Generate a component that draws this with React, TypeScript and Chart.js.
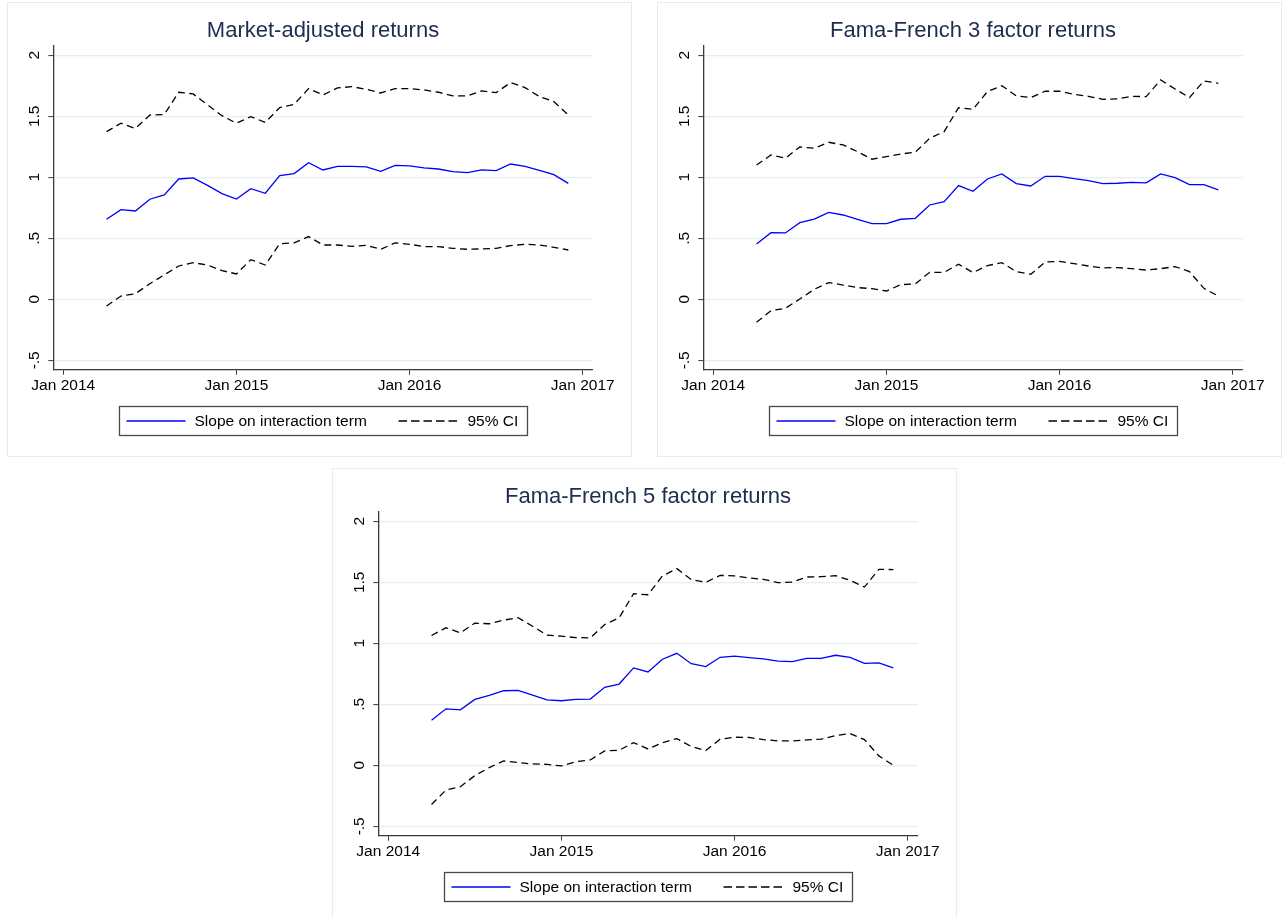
import React, { useEffect, useRef } from "react";
import { Chart, registerables } from "chart.js";

Chart.register(...registerables);

// Monthly estimation dates (first of each month)
const months = [
  "2014-04", "2014-05", "2014-06", "2014-07", "2014-08", "2014-09", "2014-10", "2014-11", "2014-12",
  "2015-01", "2015-02", "2015-03", "2015-04", "2015-05", "2015-06", "2015-07", "2015-08", "2015-09",
  "2015-10", "2015-11", "2015-12", "2016-01", "2016-02", "2016-03", "2016-04", "2016-05", "2016-06",
  "2016-07", "2016-08", "2016-09", "2016-10", "2016-11", "2016-12",
];

// Market-adjusted returns
const marketSlope = [0.656, 0.735, 0.724, 0.82, 0.855, 0.986, 0.995, 0.934, 0.866, 0.822, 0.907, 0.869, 1.014, 1.03, 1.12, 1.06, 1.09, 1.09, 1.085, 1.049, 1.098, 1.093, 1.077, 1.068, 1.046, 1.038, 1.06, 1.055, 1.109, 1.09, 1.057, 1.022, 0.95];
const marketUpper = [1.374, 1.443, 1.4, 1.51, 1.514, 1.697, 1.683, 1.593, 1.505, 1.443, 1.497, 1.45, 1.571, 1.598, 1.727, 1.675, 1.732, 1.743, 1.721, 1.691, 1.727, 1.727, 1.716, 1.697, 1.667, 1.667, 1.708, 1.694, 1.776, 1.735, 1.661, 1.62, 1.51];
const marketLower = [-0.055, 0.027, 0.046, 0.128, 0.2, 0.273, 0.3, 0.281, 0.235, 0.208, 0.325, 0.281, 0.456, 0.462, 0.514, 0.445, 0.445, 0.434, 0.443, 0.41, 0.462, 0.451, 0.432, 0.432, 0.418, 0.41, 0.413, 0.418, 0.44, 0.451, 0.445, 0.426, 0.404];

// Fama-French 3 factor returns
const ff3Slope = [0.454, 0.546, 0.544, 0.628, 0.658, 0.713, 0.691, 0.656, 0.62, 0.62, 0.656, 0.664, 0.773, 0.8, 0.932, 0.885, 0.986, 1.027, 0.948, 0.929, 1.008, 1.008, 0.989, 0.973, 0.948, 0.951, 0.959, 0.954, 1.027, 0.997, 0.94, 0.94, 0.896];
const ff3Upper = [1.101, 1.183, 1.156, 1.249, 1.238, 1.287, 1.265, 1.21, 1.148, 1.169, 1.191, 1.205, 1.32, 1.374, 1.571, 1.557, 1.702, 1.751, 1.667, 1.653, 1.705, 1.705, 1.68, 1.664, 1.639, 1.642, 1.664, 1.661, 1.798, 1.724, 1.653, 1.79, 1.77];
const ff3Lower = [-0.189, -0.093, -0.074, 0.003, 0.082, 0.137, 0.117, 0.096, 0.087, 0.068, 0.12, 0.126, 0.221, 0.221, 0.287, 0.219, 0.276, 0.3, 0.227, 0.205, 0.306, 0.311, 0.292, 0.273, 0.257, 0.26, 0.251, 0.24, 0.251, 0.268, 0.227, 0.09, 0.027];

// Fama-French 5 factor returns
const ff5Slope = [0.37, 0.463, 0.455, 0.54, 0.573, 0.611, 0.614, 0.576, 0.537, 0.529, 0.54, 0.543, 0.639, 0.666, 0.798, 0.765, 0.869, 0.918, 0.833, 0.809, 0.885, 0.894, 0.883, 0.872, 0.853, 0.85, 0.877, 0.877, 0.902, 0.885, 0.836, 0.839, 0.798];
const ff5Upper = [1.064, 1.127, 1.086, 1.165, 1.16, 1.19, 1.209, 1.14, 1.066, 1.058, 1.047, 1.044, 1.154, 1.209, 1.406, 1.398, 1.552, 1.612, 1.521, 1.5, 1.557, 1.552, 1.535, 1.524, 1.497, 1.502, 1.543, 1.546, 1.554, 1.516, 1.461, 1.606, 1.604];
const ff5Lower = [-0.321, -0.203, -0.175, -0.085, -0.019, 0.036, 0.022, 0.011, 0.008, -0.005, 0.03, 0.044, 0.118, 0.123, 0.186, 0.134, 0.184, 0.219, 0.154, 0.121, 0.214, 0.23, 0.228, 0.211, 0.2, 0.2, 0.208, 0.214, 0.244, 0.26, 0.211, 0.077, 0.0];

// Axis ticks: x in months since Jan 2014
const xTickValues = [0, 12, 24, 36];
const xTickLabels = ["Jan 2014", "Jan 2015", "Jan 2016", "Jan 2017"];
const yTickValues = [-0.5, 0, 0.5, 1, 1.5, 2];
const yTickLabels = ["-.5", "0", ".5", "1", "1.5", "2"];

const legendLabels = ["Slope on interaction term", "95% CI"];

const FONT = '"Liberation Sans", Arial, Helvetica, sans-serif';
const BLUE = "#0000ff";
const DASH = [7, 4.5];
const GRID = "#e6eef0";
const AXIS = "#3a3a3a";
const TITLE = "#1e2c4e";

const monthOffset = (m: string) => {
  const [y, mo] = m.split("-").map(Number);
  return (y - 2014) * 12 + (mo - 1);
};

const toPoints = (vals: number[]) => vals.map((v, i) => ({ x: monthOffset(months[i]), y: v }));

const CANVAS_W = 623;
const CANVAS_H = 453;

// Draws the panel title above the plot region and the boxed legend below it
const panelDecor = {
  id: "panelDecor",
  afterDraw(chart: any) {
    const { ctx, chartArea } = chart;
    const title: string = chart.options.plugins.panelDecor.title;
    const cx = (chartArea.left + chartArea.right) / 2;
    ctx.save();
    ctx.fillStyle = TITLE;
    ctx.font = `22px ${FONT}`;
    ctx.textAlign = "center";
    ctx.textBaseline = "alphabetic";
    ctx.fillText(title, cx, chartArea.top - 9.5);

    // legend box
    const boxW = 408;
    const boxH = 29;
    const bx = Math.round(cx - boxW / 2) + 0.5;
    const by = Math.round(chartArea.bottom + 36.3) + 0.5;
    ctx.strokeStyle = "#4a4a4a";
    ctx.lineWidth = 1.3;
    ctx.strokeRect(bx, by, boxW, boxH);
    const my = by + boxH / 2;

    const slopeDs = chart.data.datasets[2];
    const ciDs = chart.data.datasets[0];

    ctx.beginPath();
    ctx.strokeStyle = slopeDs.borderColor;
    ctx.lineWidth = 1.6;
    ctx.setLineDash([]);
    ctx.moveTo(bx + 7, my);
    ctx.lineTo(bx + 66, my);
    ctx.stroke();

    ctx.beginPath();
    ctx.strokeStyle = ciDs.borderColor;
    ctx.lineWidth = 1.4;
    ctx.setLineDash([8.5, 4]);
    ctx.moveTo(bx + 279, my);
    ctx.lineTo(bx + 338, my);
    ctx.stroke();
    ctx.setLineDash([]);

    ctx.fillStyle = "#000";
    ctx.font = `15.5px ${FONT}`;
    ctx.textAlign = "left";
    ctx.textBaseline = "middle";
    ctx.fillText(slopeDs.label, bx + 75, my + 0.5);
    ctx.fillText(legendLabels[1], bx + 348, my + 0.5);
    ctx.restore();
  },
};

type PanelProps = {
  title: string;
  slope: number[];
  upper: number[];
  lower: number[];
  left: number;
  top: number;
  height: number;
};

function Panel({ title, slope, upper, lower, left, top, height }: PanelProps) {
  const ref = useRef<HTMLCanvasElement | null>(null);

  useEffect(() => {
    if (!ref.current) return;
    const ciStyle = {
      borderColor: "#000",
      borderWidth: 1.3,
      borderDash: DASH,
      pointRadius: 0,
      tension: 0,
      fill: false,
    };
    const chart = new Chart(ref.current, {
      type: "line",
      data: {
        datasets: [
          { label: legendLabels[1], data: toPoints(upper), ...ciStyle },
          { label: legendLabels[1] + " lower", data: toPoints(lower), ...ciStyle },
          {
            label: legendLabels[0],
            data: toPoints(slope),
            borderColor: BLUE,
            borderWidth: 1.3,
            pointRadius: 0,
            tension: 0,
            fill: false,
          },
        ],
      },
      options: {
        responsive: false,
        animation: false,
        events: [],
        layout: { padding: { top: 43, left: 0, right: 38.3, bottom: 56.3 } },
        scales: {
          x: {
            type: "linear",
            min: -0.69,
            max: 36.69,
            afterBuildTicks: (s: any) => {
              s.ticks = xTickValues.map((v) => ({ value: v }));
            },
            afterFit: (s: any) => {
              s.height = 30;
            },
            ticks: {
              autoSkip: false,
              maxRotation: 0,
              minRotation: 0,
              padding: 2,
              color: "#000",
              font: { family: FONT, size: 15.5 },
              callback: (v: any) => xTickLabels[xTickValues.indexOf(Number(v))] ?? "",
            },
            grid: {
              drawOnChartArea: false,
              drawTicks: true,
              tickLength: 5,
              tickColor: AXIS,
              tickWidth: 1,
            },
            border: { display: true, color: AXIS, width: 1.3 },
          },
          y: {
            type: "linear",
            min: -0.577,
            max: 2.076,
            afterBuildTicks: (s: any) => {
              s.ticks = yTickValues.map((v) => ({ value: v }));
            },
            afterFit: (s: any) => {
              s.width = 45.3;
            },
            ticks: {
              autoSkip: false,
              minRotation: 90,
              maxRotation: 90,
              crossAlign: "center",
              padding: 3,
              color: "#000",
              font: { family: FONT, size: 15.5 },
              callback: (v: any) => yTickLabels[yTickValues.indexOf(Number(v))] ?? "",
            },
            grid: {
              color: GRID,
              lineWidth: 1.2,
              drawTicks: true,
              tickLength: 5,
              tickColor: AXIS,
              tickWidth: 1,
            },
            border: { display: true, color: AXIS, width: 1.3 },
          },
        },
        plugins: {
          legend: { display: false },
          tooltip: { enabled: false },
          title: { display: false },
          panelDecor: { title },
        } as any,
      },
      plugins: [panelDecor],
    });
    return () => chart.destroy();
  }, [title, slope, upper, lower]);

  return (
    <div
      style={{
        position: "absolute",
        left,
        top,
        width: CANVAS_W,
        height,
        border: "1px solid #e4ecef",
        background: "#fff",
        overflow: "hidden",
      }}
    >
      <canvas ref={ref} width={CANVAS_W} height={CANVAS_H} style={{ display: "block" }} />
    </div>
  );
}

export default function App() {
  return (
    <div
      style={{
        position: "absolute",
        left: 0,
        top: 0,
        width: 1284,
        height: 917,
        overflow: "hidden",
        background: "#fff",
      }}
    >
      <Panel title="Market-adjusted returns" slope={marketSlope} upper={marketUpper} lower={marketLower} left={7} top={2} height={453} />
      <Panel title="Fama-French 3 factor returns" slope={ff3Slope} upper={ff3Upper} lower={ff3Lower} left={657} top={2} height={453} />
      <Panel title="Fama-French 5 factor returns" slope={ff5Slope} upper={ff5Upper} lower={ff5Lower} left={332} top={468} height={460} />
    </div>
  );
}
